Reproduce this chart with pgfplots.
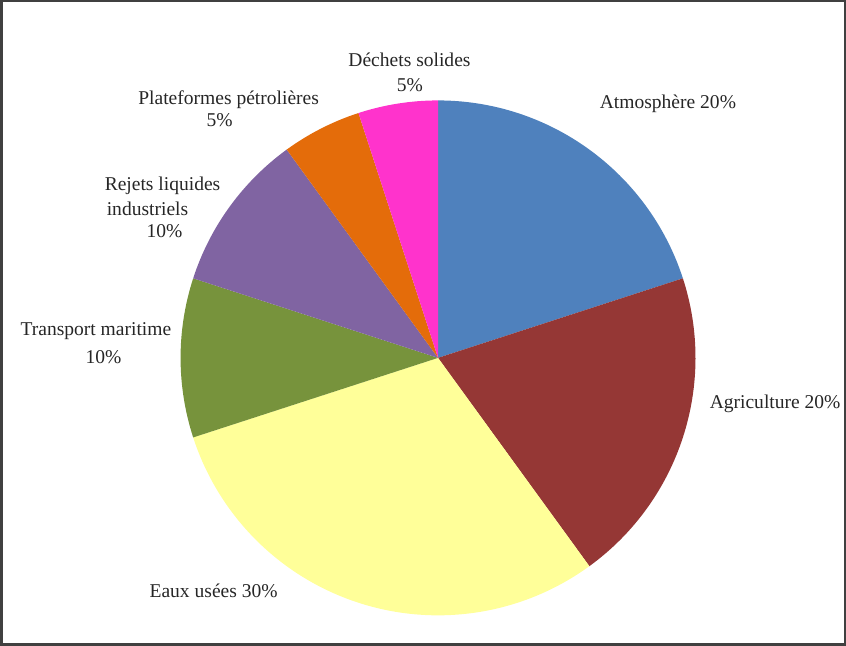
\documentclass[border=0pt]{standalone}
\usepackage{pgfplots}
\pgfplotsset{compat=1.18}
\usepackage{pgfplotstable}
\usepackage{fontspec}
\setmainfont{Liberation Serif}

\definecolor{cAtm}{HTML}{4F81BD}
\definecolor{cAgr}{HTML}{953735}
\definecolor{cEau}{HTML}{FFFF99}
\definecolor{cTra}{HTML}{77933C}
\definecolor{cRej}{HTML}{8064A2}
\definecolor{cPla}{HTML}{E46C0A}
\definecolor{cDec}{HTML}{FF33CC}

\tikzset{lab/.style={font=\fontsize{19.5bp}{23bp}\selectfont, inner sep=0pt, text=black!85}}

% share (percent) and colour of each slice, clockwise from the top
\pgfplotstableread{
value color
20 cAtm
20 cAgr
30 cEau
10 cTra
10 cRej
5 cPla
5 cDec
}\piedata

\begin{document}
\begin{tikzpicture}
\begin{axis}[
  width=846bp, height=646bp, scale only axis,
  xmin=0, xmax=846, ymin=0, ymax=646,
  hide axis, clip=false,
]
\pgfplotstablegetrowsof{\piedata}
\pgfmathtruncatemacro{\nrows}{\pgfplotsretval-1}
\gdef\curangle{90}
\pgfplotsforeachungrouped \i in {0,...,\nrows}{%
  \pgfplotstablegetelem{\i}{value}\of{\piedata}%
  \let\val\pgfplotsretval
  \pgfplotstablegetelem{\i}{color}\of{\piedata}%
  \let\col\pgfplotsretval
  \pgfmathsetmacro{\endangle}{\curangle-3.6*\val}%
  \edef\doslice{\noexpand\fill[\col] (axis cs:438,288) -- ++(\curangle:257bp) arc[start angle=\curangle, end angle=\endangle, radius=257bp] -- cycle;}%
  \doslice
  \global\let\curangle\endangle
}

% labels
\node[lab] at (axis cs:409.5,586) {Déchets solides};
\node[lab] at (axis cs:410,560) {5\%};
\node[lab] at (axis cs:229,546) {Plateformes pétrolières};
\node[lab] at (axis cs:220,525) {5\%};
\node[lab] at (axis cs:667.5,542) {Atmosphère 20\%};
\node[lab] at (axis cs:163,460) {Rejets liquides};
\node[lab] at (axis cs:148,437) {industriels};
\node[lab] at (axis cs:165,415) {10\%};
\node[lab] at (axis cs:96.5,315) {Transport maritime};
\node[lab] at (axis cs:104,289) {10\%};
\node[lab] at (axis cs:774.5,242) {Agriculture 20\%};
\node[lab] at (axis cs:214,55) {Eaux usées 30\%};

% frame
\draw[line width=2.5bp, black!75] (axis cs:2,2) rectangle (axis cs:844,644);
\end{axis}
\end{tikzpicture}
\end{document}
